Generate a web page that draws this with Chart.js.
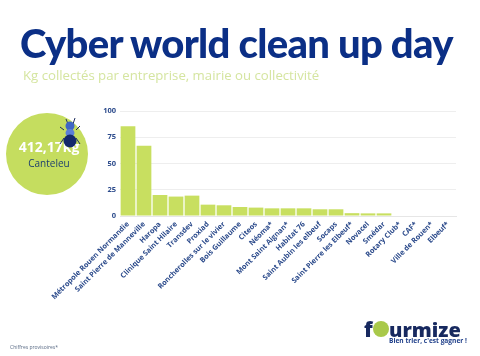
<!DOCTYPE html>
<html>
<head>
<meta charset="utf-8">
<script src="https://cdn.jsdelivr.net/npm/chart.js@4"></script>
<style>
  html, body { margin: 0; padding: 0; background: #fff; }
  #page { position: relative; width: 480px; height: 356px; overflow: hidden; font-family: "Open Sans", sans-serif; }
  #myChart { position: absolute; left: 0; top: 0; }
  .txt { position: absolute; white-space: nowrap; line-height: 1; }
  #title { left: 20px; top: 19px; font: 900 40px Lato, sans-serif; color: #0b2f86; letter-spacing: -0.7px; }
  #subtitle { left: 23px; top: 69px; font-size: 13.2px; color: #d5e5a0; }
  #circle { position: absolute; left: 6px; top: 113px; width: 82px; height: 82px; border-radius: 50%; background: #c5dd5f; }
  #total { left: 0; width: 98px; text-align: center; top: 140px; font-size: 14px; font-weight: 700; color: #fff; }
  #city { left: 0; width: 98px; text-align: center; top: 158px; font-size: 10px; color: #1f3f6e; }
  #ant { position: absolute; left: 59px; top: 116px; }
  #logo { left: 364px; top: 315px; font: 800 21px "Open Sans", sans-serif; color: #17295f; }
  #logoRest { left: 389px; top: 316px; font: 800 20px "Open Sans", sans-serif; color: #17295f; }
  #logoO { position: absolute; left: 373px; top: 321px; width: 16px; height: 16px; border-radius: 50%; background: #a9c94a; }
  #slogan { left: 389px; top: 338px; font-size: 6.6px; font-weight: 700; color: #1f3f8a; }
  #note { left: 10px; top: 345px; font-size: 5px; color: #5a6b85; }
</style>
</head>
<body>
<div id="page">
  <canvas id="myChart" width="480" height="356"></canvas>
  <div class="txt" id="title">Cyber world clean up day</div>
  <div class="txt" id="subtitle">Kg collectés par entreprise, mairie ou collectivité</div>
  <div id="circle"></div>
  <div class="txt" id="total">412,17kg</div>
  <div class="txt" id="city">Canteleu</div>
  <svg id="ant" width="22" height="34" viewBox="0 0 22 34">
    <g stroke="#1d2c5e" stroke-width="1" fill="none">
      <path d="M7 3 L9 8 M16 2 L14 8 M5 14 L1 11 M17 14 L21 10 M5 22 L1 28 M17 22 L21 28"/>
    </g>
    <circle cx="11" cy="10" r="4.5" fill="#3f66c4"/>
    <ellipse cx="11" cy="17" rx="4.5" ry="4" fill="#5b7fd6"/>
    <ellipse cx="11" cy="25" rx="6.5" ry="6.5" fill="#14296b"/>
  </svg>
  <div class="txt" id="logo">f</div>
  <div id="logoO"></div>
  <div class="txt" id="logoRest">urmize</div>
  <div class="txt" id="slogan">Bien trier, c'est gagner !</div>
  <div class="txt" id="note">Chiffres provisoires*</div>
</div>
<script>
const categories = [
  "Métropole Rouen Normandie", "Saint Pierre de Manneville", "Haropa", "Clinique Saint Hilaire",
  "Transdev", "Proxiad", "Roncherolles sur le vivier", "Bois Guillaume", "Citeos", "Néoma*",
  "Mont Saint Aignan*", "Habitat 76", "Saint Aubin les elbeuf", "Socaps", "Saint Pierre les Elbeuf*",
  "Novacel", "Smédar", "Rotary Club*", "CAF*", "Ville de Rouen*", "Elbeuf*"
];
const kgValues = [85.4, 67, 20, 18.5, 19.4, 10.8, 10.2, 8.6, 8, 7.3, 7.3, 7.3, 6.4, 6.4, 2.7, 2.5, 2.5, 0, 0, 0, 0];
const yTicks = [0, 25, 50, 75, 100];

const ctx = document.getElementById("myChart");

const myChart = new Chart(ctx, {
  type: "bar",
  data: {
    labels: categories,
    datasets: [
      {
        label: "Kg collectés",
        data: kgValues,
        backgroundColor: "#c8df60",
        borderWidth: 0,
        barPercentage: 0.92,
        categoryPercentage: 1,
      },
    ],
  },
  options: {
    responsive: false,
    animation: false,
    layout: {
      padding: { left: 0, top: 111, right: 24, bottom: 0 },
    },
    plugins: {
      legend: { display: false },
      tooltip: { enabled: false },
    },
    scales: {
      y: {
        min: 0,
        max: 100,
        afterFit: (scale) => { scale.width = 120; },
        afterBuildTicks: (scale) => { scale.ticks = yTicks.map((v) => ({ value: v })); },
        grid: { color: "#eeeeee", drawTicks: false },
        border: { display: false },
        ticks: {
          padding: 4,
          color: "#2b4a8b",
          font: { family: "Open Sans", size: 7.5, weight: "bold" },
        },
      },
      x: {
        afterFit: (scale) => { scale.height = 140; },
        grid: { display: false, drawTicks: false },
        border: { color: "#e6e6e6" },
        ticks: {
          autoSkip: false,
          maxRotation: 45,
          minRotation: 45,
          padding: 4,
          color: "#2b4a8b",
          font: { family: "Open Sans", size: 7.3, weight: "bold" },
        },
      },
    },
  },
});
</script>
</body>
</html>
